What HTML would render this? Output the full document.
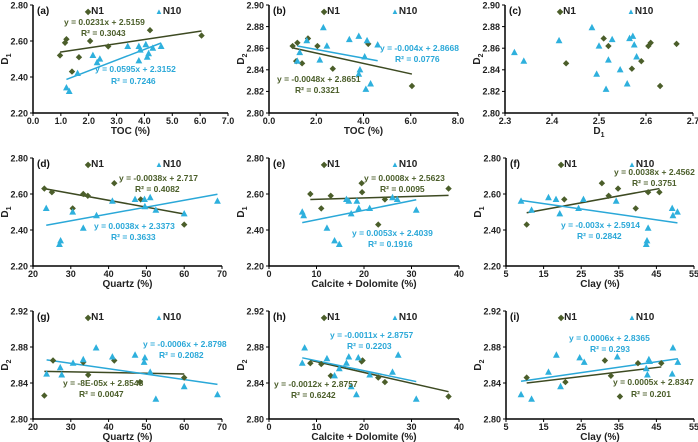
<!DOCTYPE html>
<html><head><meta charset="utf-8"><style>
html,body{margin:0;padding:0;background:#fff;}
svg{display:block;font-family:"Liberation Sans",Arial,sans-serif;font-weight:bold;}
</style></head><body>
<svg id="chart" width="698" height="442" viewBox="0 0 698 442"></svg>
<script>
// ---- data ----
const aN1x=[0.97,1.15,1.2,1.4,1.65,2.05,2.7,4.2,6.05];
const aN1y=[2.52,2.59,2.61,2.43,2.51,2.60,2.57,2.66,2.63];
const aN10x=[1.2,1.3,1.6,2.15,2.3,2.4,3.4,3.8,3.8,3.85,4.05,4.1,4.15,4.3,4.6];
const aN10y=[2.34,2.32,2.42,2.52,2.48,2.50,2.57,2.57,2.49,2.55,2.58,2.51,2.53,2.56,2.57];
const bN1x=[1.0,1.15,1.2,1.4,1.65,2.05,2.7,4.2,6.05];
const bN1y=[2.862,2.848,2.865,2.846,2.869,2.862,2.841,2.864,2.825];
const bN10x=[1.2,1.3,1.6,2.15,2.3,2.45,3.4,3.8,3.8,3.85,4.05,4.1,4.15,4.3,4.6];
const bN10y=[2.848,2.856,2.867,2.849,2.879,2.862,2.868,2.871,2.836,2.840,2.852,2.822,2.867,2.827,2.863];
const cN1x=[2.43,2.51,2.52,2.57,2.59,2.605,2.61,2.63,2.665];
const cN1y=[2.846,2.869,2.862,2.841,2.848,2.862,2.865,2.825,2.864];
const cN10x=[2.32,2.34,2.415,2.485,2.495,2.50,2.515,2.52,2.528,2.545,2.56,2.565,2.572,2.575,2.58];
const cN10y=[2.856,2.848,2.867,2.879,2.836,2.862,2.822,2.849,2.868,2.840,2.827,2.869,2.871,2.863,2.852];
const dN1x=[23,25,30.5,33.3,34.5,41.5,48.5,60];
const dN1y=[2.63,2.61,2.52,2.60,2.59,2.66,2.57,2.43];
const dN10x=[23.5,27,27.3,30.5,33.3,36.8,41,47,49.5,49.6,51,52.5,60,68.8];
const dN10y=[2.52,2.32,2.34,2.50,2.41,2.48,2.56,2.57,2.57,2.53,2.58,2.51,2.49,2.56];
const eN1x=[8.7,11,13,19.5,19.6,23,24.4,37.8];
const eN1y=[2.60,2.52,2.59,2.66,2.61,2.43,2.57,2.63];
const eN10x=[7,7.3,12.2,13.8,14.8,16.3,16.8,17.3,18.5,18.9,21.2,26,27,31];
const eN10y=[2.50,2.48,2.41,2.34,2.32,2.57,2.56,2.49,2.56,2.52,2.52,2.58,2.57,2.51];
const fN1x=[10.5,20.5,30.5,32.3,34.8,39.5,42.8,45.8];
const fN1y=[2.43,2.57,2.66,2.59,2.63,2.52,2.61,2.61];
const fN10x=[9,11.8,16.3,18.3,19.3,24.3,25.6,34.3,42.3,42.5,42.8,49.2,49.4,50.6];
const fN10y=[2.56,2.51,2.58,2.57,2.49,2.52,2.57,2.56,2.32,2.34,2.41,2.52,2.48,2.50];
const gN1x=[23,25.3,33.3,34.6,41.5,48.3,60];
const gN1y=[2.826,2.865,2.863,2.849,2.865,2.841,2.846];
const gN10x=[23.6,27.2,27.6,30.6,33.3,36.7,41,47,49.4,49.6,51,52.5,60,68.8];
const gN10y=[2.850,2.857,2.849,2.862,2.866,2.879,2.869,2.871,2.863,2.868,2.852,2.822,2.836,2.827];
const hN1x=[8.7,11,13,19.5,19.7,23,24.4,37.8];
const hN1y=[2.862,2.861,2.848,2.864,2.865,2.846,2.841,2.825];
const hN10x=[7,7.5,12.2,13.8,14.8,16.3,16.8,17.3,18.4,18.8,21.2,26,27.2,31];
const hN10y=[2.862,2.879,2.867,2.848,2.856,2.862,2.869,2.836,2.827,2.868,2.849,2.852,2.871,2.822];
const iN1x=[10.5,20.8,31.3,32.9,35.3,40.1,46.3];
const iN1y=[2.846,2.841,2.865,2.848,2.825,2.862,2.862];
const iN10x=[9,11.8,16.3,18.4,19.5,24.6,25.8,34.6,42.3,42.6,43,43.2,49.2,49.4,50.7];
const iN10y=[2.827,2.822,2.852,2.871,2.836,2.868,2.863,2.869,2.856,2.849,2.866,2.864,2.850,2.879,2.863];
// trend line coefficients [slope, intercept]
const fitN1=[[0.0231,2.5159],[-0.0048,2.8651],null,[-0.0038,2.717],[0.0008,2.5623],[0.0038,2.4562],[-0.00008,2.8548],[-0.0012,2.8757],[0.0005,2.8347]];
const fitN10=[[0.0595,2.3152],[-0.004,2.8668],null,[0.0038,2.3373],[0.0053,2.4039],[-0.003,2.5914],[-0.0006,2.8798],[-0.0011,2.8757],[0.0006,2.8365]];
const eqN1=[["y = 0.0231x + 2.5159","R² = 0.3043"],["y = -0.0048x + 2.8651","R² = 0.3321"],null,["y = -0.0038x + 2.717","R² = 0.4082"],["y = 0.0008x + 2.5623","R² = 0.0095"],["y = 0.0038x + 2.4562","R² = 0.3751"],["y = -8E-05x + 2.8548","R² = 0.0047"],["y = -0.0012x + 2.8757","R² = 0.6242"],["y = 0.0005x + 2.8347","R² = 0.201"]];
const eqN10=[["y = 0.0595x + 2.3152","R² = 0.7246"],["y = -0.004x + 2.8668","R² = 0.0776"],null,["y = 0.0038x + 2.3373","R² = 0.3633"],["y = 0.0053x + 2.4039","R² = 0.1916"],["y = -0.003x + 2.5914","R² = 0.2842"],["y = -0.0006x + 2.8798","R² = 0.2082"],["y = -0.0011x + 2.8757","R² = 0.2203"],["y = 0.0006x + 2.8365","R² = 0.293"]];
const xTickA=["0.0","1.0","2.0","3.0","4.0","5.0","6.0","7.0"];
const xTickB=["0.0","2.0","4.0","6.0","8.0"];
const xTickC=["2.3","2.4","2.5","2.6","2.7"];
const xTickQ=["20","30","40","50","60","70"];
const xTickCD=["0","10","20","30","40"];
const xTickClay=["5","15","25","35","45","55"];
const yTick1=["2.20","2.40","2.60","2.80"];
const yTick2=["2.80","2.82","2.84","2.86","2.88","2.90"];
const yTick3=["2.80","2.84","2.88","2.92"];

const N1C="#4b5e2a", N10C="#2eb0dd", LN1="#3d4a22", LN10="#2aa8d8";
const panels=[
 {id:"a",ax:33,rx:228,top:5,bot:113,xt:xTickA,yt:yTick1,xl:"TOC (%)",yl:"1",n1:[aN1x,aN1y],n10:[aN10x,aN10y],e1:[[64,22],[81,33]],e10:[[95,69],[111,81]]},
 {id:"b",ax:269,rx:458,top:5,bot:113,xt:xTickB,yt:yTick2,xl:"TOC (%)",yl:"2",n1:[bN1x,bN1y],n10:[bN10x,bN10y],e1:[[277,79],[295,90]],e10:[[380,48],[395,59]]},
 {id:"c",ax:505,rx:693,top:5,bot:113,xt:xTickC,yt:yTick2,xl:"D",xsub:"1",yl:"2",n1:[cN1x,cN1y],n10:[cN10x,cN10y]},
 {id:"d",ax:33,rx:222,top:158,bot:266,xt:xTickQ,yt:yTick1,xl:"Quartz (%)",yl:"1",n1:[dN1x,dN1y],n10:[dN10x,dN10y],e1:[[119,178],[135,189]],e10:[[94,226],[111,237]]},
 {id:"e",ax:269,rx:459,top:158,bot:266,xt:xTickCD,yt:yTick1,xl:"Calcite + Dolomite (%)",yl:"1",n1:[eN1x,eN1y],n10:[eN10x,eN10y],e1:[[364,178],[380,189]],e10:[[352,233],[368,244]]},
 {id:"f",ax:506,rx:694,top:158,bot:266,xt:xTickClay,yt:yTick1,xl:"Clay (%)",yl:"1",n1:[fN1x,fN1y],n10:[fN10x,fN10y],e1:[[614,172],[632,183]],e10:[[561,225],[577,236]]},
 {id:"g",ax:33,rx:222,top:311,bot:419,xt:xTickQ,yt:yTick3,xl:"Quartz (%)",yl:"2",n1:[gN1x,gN1y],n10:[gN10x,gN10y],e1:[[63,383],[79,394]],e10:[[143,344],[159,355]]},
 {id:"h",ax:269,rx:459,top:311,bot:419,xt:xTickCD,yt:yTick3,xl:"Calcite + Dolomite (%)",yl:"2",n1:[hN1x,hN1y],n10:[hN10x,hN10y],e1:[[274,384],[291,395]],e10:[[330,335],[347,346]]},
 {id:"i",ax:506,rx:694,top:311,bot:419,xt:xTickClay,yt:yTick3,xl:"Clay (%)",yl:"2",n1:[iN1x,iN1y],n10:[iN10x,iN10y],e1:[[613,382],[631,394]],e10:[[569,338],[590,349]]}
];
const NS="http://www.w3.org/2000/svg";
const svg=document.getElementById('chart');
function mk(tag,attrs,parent){const e=document.createElementNS(NS,tag);for(const k in attrs)e.setAttribute(k,attrs[k]);(parent||svg).appendChild(e);return e;}
panels.forEach((p,pi)=>{
 const g=mk('g',{});
 
 
 const xmin=+p.xt[0],xmax=+p.xt[p.xt.length-1],ymin=+p.yt[0],ymax=+p.yt[p.yt.length-1];
 const X=v=>p.ax+(v-xmin)/(xmax-xmin)*(p.rx-p.ax);
 const Y=v=>p.bot-(v-ymin)/(ymax-ymin)*(p.bot-p.top);
 const ax=mk('path',{d:`M${p.ax},${p.top}V${p.bot}H${p.rx}`,stroke:"#000","stroke-width":1.5,fill:"none"},g);
 
 
 p.yt.forEach(t=>{const y=Y(+t);mk('line',{x1:p.ax-3,x2:p.ax,y1:y,y2:y,stroke:"#000"},g);
  const tx=mk('text',{x:p.ax-5,y:y+3.3,"text-anchor":"end","font-size":9,fill:"#222"},g);tx.textContent=t;
  
  });
 p.xt.forEach(t=>{const x=X(+t);mk('line',{x1:x,x2:x,y1:p.bot,y2:p.bot+3,stroke:"#000"},g);
  const tx=mk('text',{x:x,y:p.bot+11,"text-anchor":"middle","font-size":9,fill:"#222"},g);tx.textContent=t;
  
  });
 const xl=mk('text',{x:(p.ax+p.rx)/2,y:p.bot+21,"text-anchor":"middle","font-size":10,fill:"#222"},g);
 xl.textContent=p.xl;
 
 
 if(p.xsub){const s=mk('tspan',{"font-size":7,dy:3},xl);s.textContent=p.xsub;}
 const yl=mk('text',{transform:`translate(${p.ax-25},${(p.top+p.bot)/2}) rotate(-90)`,"text-anchor":"middle","font-size":10,fill:"#222"},g);
 yl.textContent="D";
 const ys=mk('tspan',{"font-size":7,dy:3},yl);ys.textContent=p.yl;
 
 
 const pl=mk('text',{x:p.ax+4,y:p.top+9,"font-size":10,fill:"#111"},g);pl.textContent="("+p.id+")";
 
 
 // legend
 const lg1=mk('text',{x:p.ax+52,y:p.top+9,"font-size":10,fill:"#222"},g);
 lg1.innerHTML='<tspan fill="'+N1C+'" font-size="8">◆</tspan>N1';
 
 
 const lg2=mk('text',{x:p.ax+122,y:p.top+9,"font-size":10,fill:"#222"},g);
 lg2.innerHTML='<tspan fill="'+N10C+'" font-size="8">▲</tspan>N10';
 
 
 // trend lines
 [[fitN1[pi],p.n1[0],LN1,'trendline-n1'],[fitN10[pi],p.n10[0],LN10,'trendline-n10']].forEach(([f,xs,c,nm])=>{
  if(!f)return;const x0=Math.min(...xs),x1=Math.max(...xs);
  const l=mk('line',{x1:X(x0),y1:Y(f[0]*x0+f[1]),x2:X(x1),y2:Y(f[0]*x1+f[1]),stroke:c,"stroke-width":1.5},g);
  
  
 });
 // points
 p.n1[0].forEach((xv,k)=>{const x=X(xv),y=Y(p.n1[1][k]);
  const d=mk('path',{d:`M${x},${y-3.2}L${x+3.2},${y}L${x},${y+3.2}L${x-3.2},${y}Z`,fill:N1C},g);
  
  });
 p.n10[0].forEach((xv,k)=>{const x=X(xv),y=Y(p.n10[1][k]);
  const d=mk('path',{d:`M${x},${y-3.8}L${x+3.4},${y+2.6}L${x-3.4},${y+2.6}Z`,fill:N10C},g);
  
  });
 // equations
 if(eqN1[pi]){[0,1].forEach(j=>{
  const t=mk('text',{x:p.e1[j][0],y:p.e1[j][1]+3.2,"font-size":8.5,fill:"#4b5e2a"},g);t.textContent=eqN1[pi][j];
  
  
  const u=mk('text',{x:p.e10[j][0],y:p.e10[j][1]+3.2,"font-size":8.5,fill:"#2aa8d8"},g);u.textContent=eqN10[pi][j];
  
  
 });}
});
</script>
</body></html>
